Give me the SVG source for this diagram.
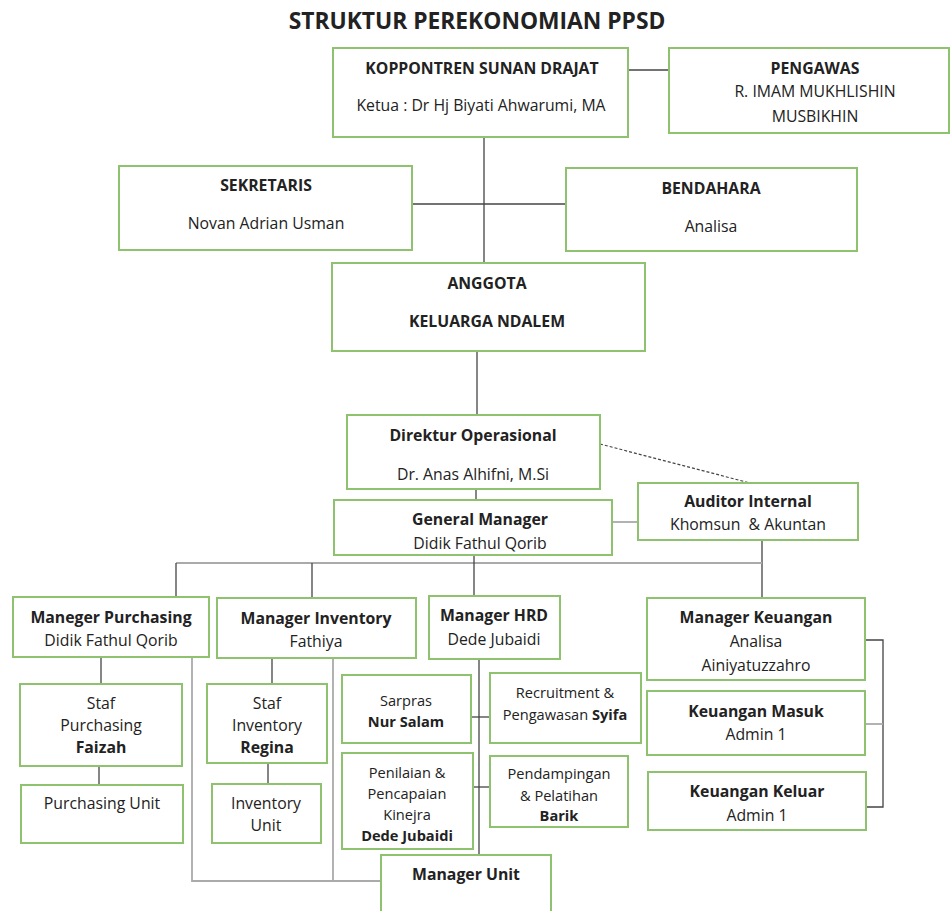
<svg xmlns="http://www.w3.org/2000/svg" width="952" height="911" viewBox="0 0 952 911">
<style>
.box{fill:#fff;stroke:#8fc26e;stroke-width:2}
text{font-family:"Open Sans","Noto Sans",sans-serif;font-size:15.8px;fill:#222;text-anchor:middle;dominant-baseline:central}
.b{font-weight:bold}
.s{font-size:14.6px}
.title{font-size:22.8px;font-weight:bold}
.ln{stroke:#444;stroke-width:1.3;fill:none}
.lg{stroke:#aaa;stroke-width:1.8;fill:none}
.dash{stroke:#444;stroke-width:1.2;stroke-dasharray:3 2;fill:none}
</style>
<rect width="952" height="911" fill="#fff"/>
<text class="title" x="477" y="20">STRUKTUR PEREKONOMIAN PPSD</text>
<g id="connectors">
<line class="ln" x1="628" y1="70" x2="669" y2="70"/>
<line class="ln" x1="484" y1="137" x2="484" y2="263"/>
<line class="ln" x1="412" y1="204" x2="566" y2="204"/>
<line class="ln" x1="477" y1="351" x2="477" y2="415"/>
<line class="dash" x1="600" y1="444" x2="750" y2="483"/>
<line class="ln" x1="476" y1="489" x2="476" y2="500"/>
<line class="lg" x1="612" y1="522" x2="638" y2="522"/>
<line class="ln" x1="762" y1="540" x2="762" y2="598"/>
<line class="lg" x1="176" y1="563" x2="762" y2="563"/>
<line class="ln" x1="474" y1="555" x2="474" y2="596"/>
<line class="ln" x1="176" y1="563" x2="176" y2="597"/>
<line class="ln" x1="312" y1="563" x2="312" y2="598"/>
<line class="ln" x1="101" y1="657" x2="101" y2="684"/>
<line class="ln" x1="99" y1="766" x2="99" y2="785"/>
<polyline class="lg" points="192,657 192,881 383,881"/>
<line class="ln" x1="272" y1="658" x2="272" y2="684"/>
<line class="ln" x1="268" y1="763" x2="268" y2="784"/>
<line class="lg" x1="333" y1="658" x2="333" y2="881"/>
<line class="ln" x1="479" y1="659" x2="479" y2="855"/>
<line class="ln" x1="471" y1="717" x2="490" y2="717"/>
<line class="ln" x1="473" y1="787" x2="490" y2="787"/>
<polyline class="ln" points="865,640 883,640 883,807 866,807"/>
<line class="lg" x1="865" y1="724" x2="883" y2="724"/>
</g>
<g id="koppontren"><rect class="box" x="333" y="48" width="295" height="89"/><text class="b" x="482" y="68">KOPPONTREN SUNAN DRAJAT</text><text x="481" y="105">Ketua : Dr Hj Biyati Ahwarumi, MA</text></g>
<g id="pengawas"><rect class="box" x="669" y="48" width="280" height="85"/><text class="b" x="815" y="68">PENGAWAS</text><text x="815" y="91">R. IMAM MUKHLISHIN</text><text x="815" y="116">MUSBIKHIN</text></g>
<g id="sekretaris"><rect class="box" x="119" y="166" width="293" height="84"/><text class="b" x="266" y="185">SEKRETARIS</text><text x="266" y="223">Novan Adrian Usman</text></g>
<g id="bendahara"><rect class="box" x="566" y="168" width="291" height="83"/><text class="b" x="711" y="188">BENDAHARA</text><text x="711" y="226">Analisa</text></g>
<g id="anggota"><rect class="box" x="332" y="263" width="313" height="88"/><text class="b" x="487" y="283">ANGGOTA</text><text class="b" x="487" y="321">KELUARGA NDALEM</text></g>
<g id="direktur"><rect class="box" x="347" y="415" width="253" height="74"/><text class="b" x="473" y="435">Direktur Operasional</text><text x="473" y="474">Dr. Anas Alhifni, M.Si</text></g>
<g id="auditor"><rect class="box" x="638" y="483" width="220" height="57"/><text class="b" x="748" y="501">Auditor Internal</text><text x="748" y="524">Khomsun&#160; &amp; Akuntan</text></g>
<g id="gm"><rect class="box" x="334" y="500" width="278" height="55"/><text class="b" x="480" y="519">General Manager</text><text x="480" y="543">Didik Fathul Qorib</text></g>
<g id="mpurchasing"><rect class="box" x="13" y="597" width="196" height="60"/><text class="b" x="111" y="617">Maneger Purchasing</text><text x="111" y="640">Didik Fathul Qorib</text></g>
<g id="minventory"><rect class="box" x="217" y="598" width="199" height="60"/><text class="b" x="316" y="618">Manager Inventory</text><text x="316" y="641">Fathiya</text></g>
<g id="mhrd"><rect class="box" x="429" y="596" width="131" height="63"/><text class="b" x="494" y="615">Manager HRD</text><text x="494" y="639">Dede Jubaidi</text></g>
<g id="mkeuangan"><rect class="box" x="647" y="598" width="218" height="82"/><text class="b" x="756" y="617">Manager Keuangan</text><text x="756" y="641">Analisa</text><text x="756" y="665">Ainiyatuzzahro</text></g>
<g id="kmasuk"><rect class="box" x="647" y="691" width="218" height="64"/><text class="b" x="756" y="711">Keuangan Masuk</text><text x="756" y="734">Admin 1</text></g>
<g id="kkeluar"><rect class="box" x="648" y="772" width="218" height="58"/><text class="b" x="757" y="791">Keuangan Keluar</text><text x="757" y="815">Admin 1</text></g>
<g id="stafpurchasing"><rect class="box" x="20" y="684" width="162" height="82"/><text x="101" y="703">Staf</text><text x="101" y="725">Purchasing</text><text class="b" x="101" y="747">Faizah</text></g>
<g id="purchasingunit"><rect class="box" x="21" y="785" width="162" height="58"/><text x="102" y="803">Purchasing Unit</text></g>
<g id="stafinventory"><rect class="box" x="207" y="684" width="120" height="79"/><text x="267" y="703">Staf</text><text x="267" y="725">Inventory</text><text class="b" x="267" y="747">Regina</text></g>
<g id="inventoryunit"><rect class="box" x="212" y="784" width="109" height="59"/><text x="266" y="803">Inventory</text><text x="266" y="825">Unit</text></g>
<g id="sarpras"><rect class="box" x="342" y="675" width="129" height="68"/><text class="s" x="406" y="700">Sarpras</text><text class="s b" x="406" y="721">Nur Salam</text></g>
<g id="recruitment"><rect class="box" x="490" y="673" width="151" height="70"/><text class="s" x="565" y="692">Recruitment &amp;</text><text class="s" x="565" y="714">Pengawasan <tspan class="b">Syifa</tspan></text></g>
<g id="penilaian"><rect class="box" x="342" y="753" width="131" height="96"/><text class="s" x="407" y="772">Penilaian &amp;</text><text class="s" x="407" y="793">Pencapaian</text><text class="s" x="407" y="814">Kinejra</text><text class="s b" x="407" y="835">Dede Jubaidi</text></g>
<g id="pendampingan"><rect class="box" x="490" y="756" width="138" height="71"/><text class="s" x="559" y="773">Pendampingan</text><text class="s" x="559" y="795">&amp; Pelatihan</text><text class="s b" x="559" y="815">Barik</text></g>
<g id="managerunit"><rect class="box" x="381" y="855" width="170" height="62"/><text class="b" x="466" y="874">Manager Unit</text></g>
</svg>
